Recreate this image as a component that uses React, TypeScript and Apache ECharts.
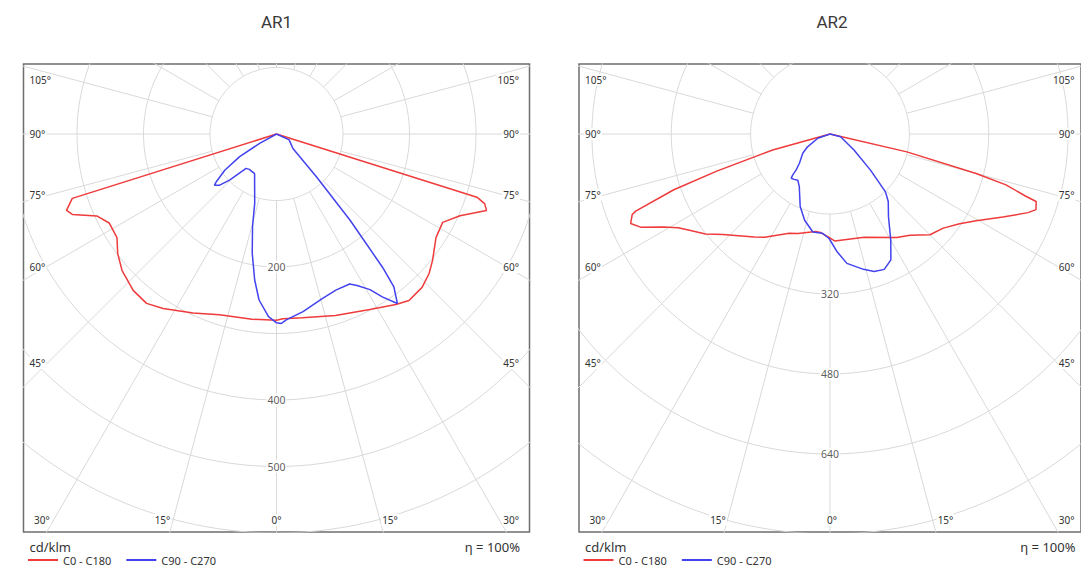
import React, { useEffect, useRef } from 'react';
import * as echarts from 'echarts';

// ---------- DATA ----------
const titles = ['AR1', 'AR2'];
const seriesNames = ['C0 - C180', 'C90 - C270'];
const unitLabel = 'cd/klm';
const efficiencyLabel = 'η = 100%';

// gamma angles in degrees from nadir (negative = C180 / C270 half), intensities in cd/klm
const ar1C0Angles = [-90, -72.5, -70, -68.5, -65.5, -62, -57, -53, -48.5, -42.5, -37.5, -33, -25, -17.5, -7.5, 0, 2, 8, 18, 28, 35, 38.5, 43.5, 47.5, 51, 57, 62, 66, 68, 70, 71.5, 72.5, 90];
const ar1C0Values = [0, 322, 336, 330, 297, 285, 286, 299, 310, 319, 321, 313, 297, 285, 281, 280, 278, 279, 287, 299, 313, 320, 318, 311, 302, 286, 283, 302, 318, 336, 330, 316, 0];

const ar1C90Angles = [-90, -61, -58.5, -55, -51.5, -50.5, -48, -45.5, -41.5, -37.5, -29, -17.5, -14.5, -11.5, -8.5, -6, -2.5, 0, 1.5, 3, 8.5, 15.5, 21, 26, 28, 31, 33, 35.5, 37.5, 38.5, 40.5, 43, 48.5, 65, 90];
const ar1C90Values = [0, 29, 65, 95, 116, 121, 115, 99, 69, 67, 68, 109, 144, 183, 222, 251, 275, 284, 285, 280, 270, 257, 251, 251, 258, 273, 292, 313, 290, 256, 170, 88, 33, 21, 0];

const ar2C0Angles = [-90, -74.5, -72, -70.5, -68.5, -68, -66, -64, -61, -58.5, -55.5, -51.5, -47, -36.5, -32.5, -22.5, -18, -8.5, -5.5, -1.5, 2.5, 18.5, 33, 38.5, 45, 50.5, 55.5, 59.5, 64.5, 68.5, 70, 72, 72.5, 74, 75, 77, 90];
const ar2C0Values = [0, 120, 240, 334, 421, 430, 440, 425, 384, 359, 341, 321, 295, 256, 245, 215, 209, 197, 198, 205, 214, 218, 247, 259, 285, 296, 317, 342, 386, 429, 442, 437, 414, 369, 305, 159, 0];

const ar2C90Angles = [-90, -71, -60.5, -55, -46.5, -43.5, -42.5, -41.5, -38.5, -35, -30.5, -22.5, -16.5, -10, -4.5, -0.5, 3.5, 7.5, 14, 18, 22, 26, 30, 35.5, 41, 44, 48.5, 56.5, 76, 90];
const ar2C90Values = [0, 26, 52, 67, 85, 99, 111, 118, 116, 113, 122, 157, 180, 199, 199, 209, 236, 261, 279, 289, 292, 280, 245, 203, 179, 161, 109, 58, 22, 0];

// polar grid rings (cd/klm) and which of them carry a label
const ar1RingStep = 100;
const ar1RingCount = 6;
const ar1RingLabels = [200, 400, 500];
const ar2RingStep = 160;
const ar2RingCount = 5;
const ar2RingLabels = [320, 480, 640];

const spokeStepDeg = 15;
const sideAngleLabels = ['105°', '90°', '75°', '60°', '45°'];
const bottomAngleLabels = ['30°', '15°', '0°', '15°', '30°'];

// ---------- LAYOUT ----------
const FRAME_TOP = 64;
const FRAME_W = 506;
const FRAME_H = 468;
const CENTER_FROM_TOP = 70;
const PANELS = [
  { left: 23.5, ringPx: 66.5 },
  { left: 579, ringPx: 80 },
];
const SIDE_LABEL_DY = [-54, 0, 61, 133, 229];
const BOTTOM_LABEL_DX = [-243.5, -114, 0, 113.5, 243.5];
const BOTTOM_LABEL_ALIGN = ['left', 'center', 'center', 'center', 'right'];
const BOTTOM_LABEL_Y = 520;

const RED = '#ef3b3b';
const BLUE = '#4343ee';
const GRID_COLOR = '#d9d9d9';
const TEXT_COLOR = '#333';
const SMALL_FONT = '"Noto Sans", "DejaVu Sans", sans-serif';

const toXY = (angleDeg: number, value: number) => {
  const a = (angleDeg * Math.PI) / 180;
  return [value * Math.sin(a), -value * Math.cos(a)];
};

const curve = (angles: number[], values: number[]) => angles.map((a, i) => toXY(a, values[i]));

const ringsData = (step: number, count: number) => {
  const out: any[] = [];
  for (let k = 1; k <= count; k++) {
    const r = step * k;
    for (let a = 0; a <= 360; a += 2) out.push(toXY(a, r));
    out.push('-');
  }
  return out;
};

const spokesData = (inner: number, outer: number) => {
  const out: any[] = [];
  for (let a = 0; a < 360; a += spokeStepDeg) {
    out.push(toXY(a, inner));
    out.push(toXY(a, outer));
    out.push('-');
  }
  return out;
};

export default function App() {
  const ref = useRef<HTMLDivElement>(null);

  useEffect(() => {
    if (!ref.current) return;
    const chart = echarts.init(ref.current, undefined, { renderer: 'svg' });

    const panelData = [
      {
        step: ar1RingStep, count: ar1RingCount, labels: ar1RingLabels,
        c0: curve(ar1C0Angles, ar1C0Values), c90: curve(ar1C90Angles, ar1C90Values),
      },
      {
        step: ar2RingStep, count: ar2RingCount, labels: ar2RingLabels,
        c0: curve(ar2C0Angles, ar2C0Values), c90: curve(ar2C90Angles, ar2C90Values),
      },
    ];

    const grid: any[] = [];
    const xAxis: any[] = [];
    const yAxis: any[] = [];
    const series: any[] = [];
    const graphic: any[] = [];
    const legend: any[] = [];

    PANELS.forEach((p, i) => {
      const d = panelData[i];
      const k = p.ringPx / d.step; // px per cd
      const cx = p.left + FRAME_W / 2;
      const cy = FRAME_TOP + CENTER_FROM_TOP;
      grid.push({
        left: p.left, top: FRAME_TOP, width: FRAME_W, height: FRAME_H,
        show: true, borderColor: '#6e6e6e', borderWidth: 1.5, backgroundColor: '#fff',
      });
      xAxis.push({
        gridIndex: i, type: 'value', min: -(FRAME_W / 2) / k, max: FRAME_W / 2 / k, show: false,
        splitLine: { show: false },
      });
      yAxis.push({
        gridIndex: i, type: 'value', min: -(FRAME_H - CENTER_FROM_TOP) / k, max: CENTER_FROM_TOP / k, show: false,
        splitLine: { show: false },
      });
      series.push({
        type: 'line', xAxisIndex: i, yAxisIndex: i, data: ringsData(d.step, d.count),
        showSymbol: false, silent: true, z: 1, connectNulls: false,
        lineStyle: { color: GRID_COLOR, width: 1 },
      });
      series.push({
        type: 'line', xAxisIndex: i, yAxisIndex: i, data: spokesData(d.step, d.step * 14),
        showSymbol: false, silent: true, z: 1, connectNulls: false,
        lineStyle: { color: GRID_COLOR, width: 1 },
      });
      series.push({
        type: 'scatter', xAxisIndex: i, yAxisIndex: i, symbolSize: 0, silent: true, z: 3,
        data: d.labels.map((v) => [0, -v, v]),
        label: {
          show: true, position: 'inside', formatter: (pr: any) => String(pr.value[2]),
          color: TEXT_COLOR, fontSize: 10.5, fontFamily: SMALL_FONT,
          backgroundColor: '#fff', padding: [1, 1],
        },
      });
      series.push({
        name: seriesNames[0], type: 'line', xAxisIndex: i, yAxisIndex: i, data: d.c0,
        showSymbol: false, z: 5, lineStyle: { color: RED, width: 1.5 }, itemStyle: { color: RED },
      });
      series.push({
        name: seriesNames[1], type: 'line', xAxisIndex: i, yAxisIndex: i, data: d.c90,
        showSymbol: false, z: 5, lineStyle: { color: BLUE, width: 1.5 }, itemStyle: { color: BLUE },
      });

      // title
      graphic.push({
        type: 'text', x: cx, y: 22, z: 100,
        style: {
          text: titles[i], fill: '#3a3a3a', font: '17px Roboto, sans-serif',
          align: 'center', verticalAlign: 'middle', textAlign: 'center', textVerticalAlign: 'middle',
        },
      });
      // side angle labels
      sideAngleLabels.forEach((t, j) => {
        [-1, 1].forEach((side) => {
          graphic.push({
            type: 'text', x: side < 0 ? p.left + 5 : p.left + FRAME_W - 9.5, y: cy + SIDE_LABEL_DY[j], z: 100,
            style: {
              text: t, fill: TEXT_COLOR, font: `10px ${SMALL_FONT}`,
              align: side < 0 ? 'left' : 'right', verticalAlign: 'middle',
              textAlign: side < 0 ? 'left' : 'right', textVerticalAlign: 'middle',
              backgroundColor: '#fff', padding: [1, 1],
            },
          });
        });
      });
      // bottom angle labels
      bottomAngleLabels.forEach((t, j) => {
        graphic.push({
          type: 'text', x: cx + BOTTOM_LABEL_DX[j], y: BOTTOM_LABEL_Y, z: 100,
          style: {
            text: t, fill: TEXT_COLOR, font: `10px ${SMALL_FONT}`,
            align: BOTTOM_LABEL_ALIGN[j], verticalAlign: 'middle',
            textAlign: BOTTOM_LABEL_ALIGN[j], textVerticalAlign: 'middle',
            backgroundColor: '#fff', padding: [1, 1],
          },
        });
      });
      // unit and efficiency
      graphic.push({
        type: 'text', x: p.left + 6, y: 547, z: 100,
        style: {
          text: unitLabel, fill: TEXT_COLOR, font: `13px ${SMALL_FONT}`,
          align: 'left', verticalAlign: 'middle', textAlign: 'left', textVerticalAlign: 'middle',
        },
      });
      graphic.push({
        type: 'text', x: p.left + FRAME_W - 9.5, y: 547, z: 100,
        style: {
          text: efficiencyLabel, fill: TEXT_COLOR, font: `13px ${SMALL_FONT}`,
          align: 'right', verticalAlign: 'middle', textAlign: 'right', textVerticalAlign: 'middle',
        },
      });
      legend.push({
        left: p.left + 4.5, top: 554, orient: 'horizontal', icon: 'rect', padding: 0,
        itemWidth: 30, itemHeight: 2, itemGap: 15, selectedMode: false,
        textStyle: { fontSize: 11, lineHeight: 12, color: TEXT_COLOR, fontFamily: SMALL_FONT, padding: [0, 0, 0, 0] },
        data: seriesNames,
      });
    });

    chart.setOption({
      animation: false,
      backgroundColor: '#fff',
      grid, xAxis, yAxis, series, graphic, legend,
    });

    return () => chart.dispose();
  }, []);

  return (
    <div
      ref={ref}
      style={{ position: 'fixed', left: 0, top: 0, width: 1081, height: 570, background: '#fff' }}
    />
  );
}
